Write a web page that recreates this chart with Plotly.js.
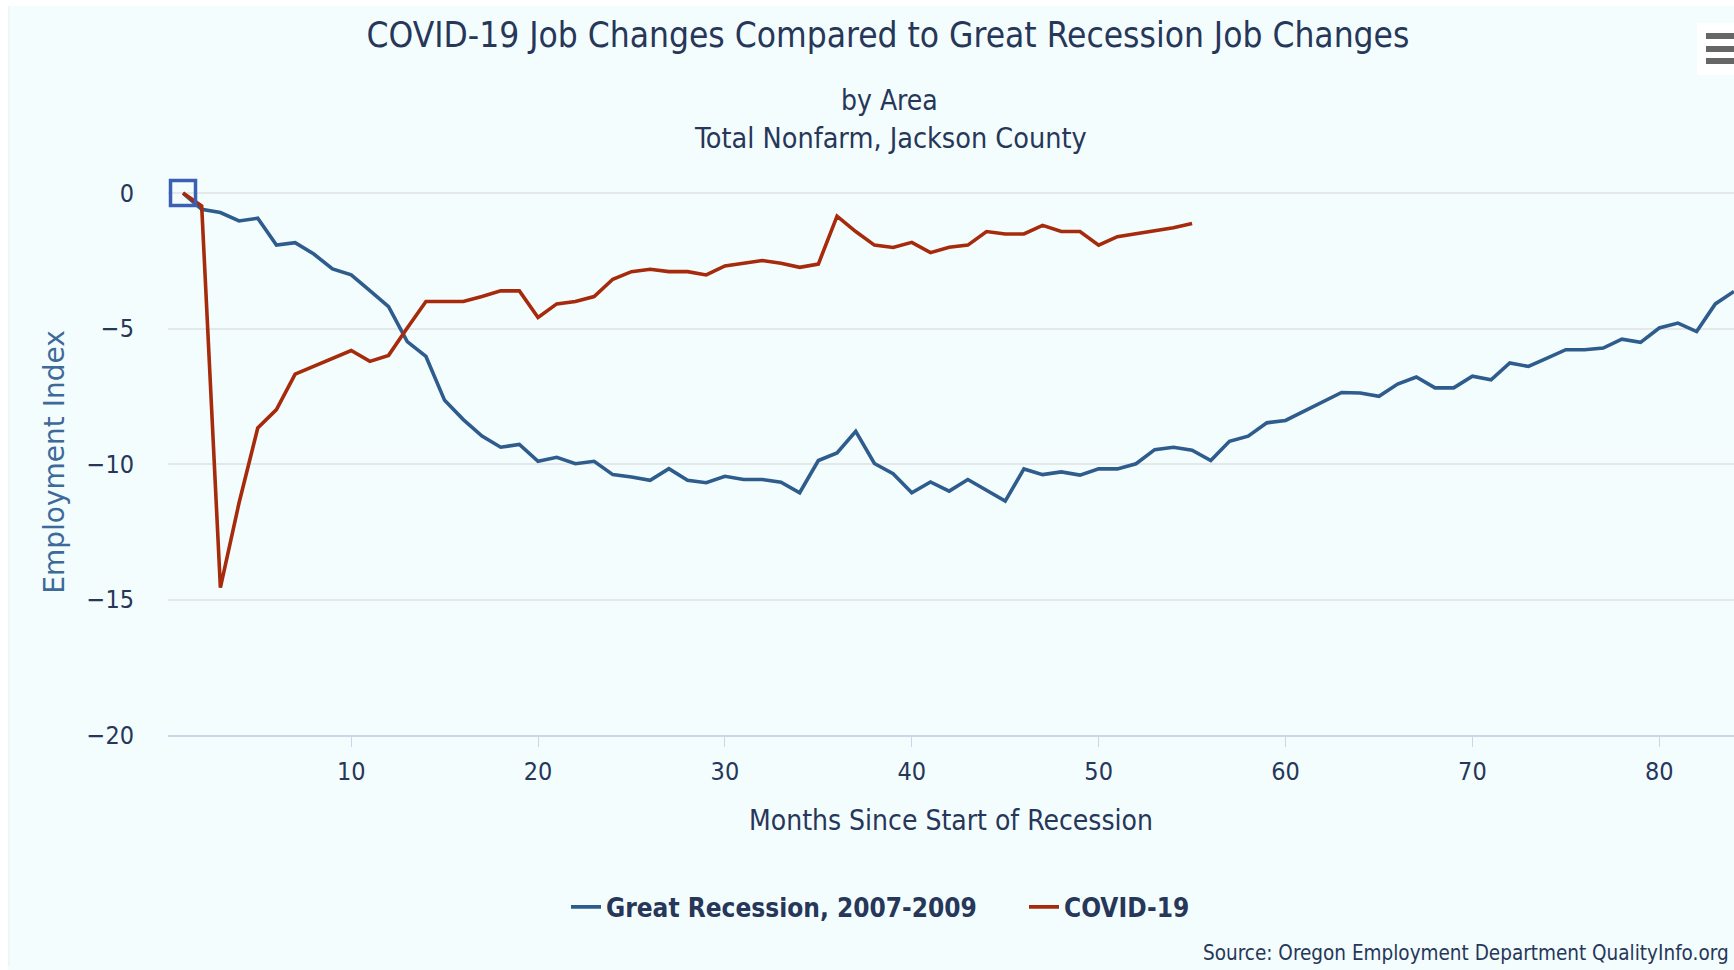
<!DOCTYPE html>
<html>
<head>
<meta charset="utf-8">
<script src="https://cdn.plot.ly/plotly-3.0.1.min.js"></script>
<style>
html,body{margin:0;padding:0;background:#ffffff;}
#chart{width:1734px;height:970px;}
</style>
</head>
<body>
<div id="chart"></div>
<script>
var months = [1,2,3,4,5,6,7,8,9,10,11,12,13,14,15,16,17,18,19,20,21,22,23,24,25,26,27,28,29,30,31,32,33,34,35,36,37,38,39,40,41,42,43,44,45,46,47,48,49,50,51,52,53,54,55,56,57,58,59,60,61,62,63,64,65,66,67,68,69,70,71,72,73,74,75,76,77,78,79,80,81,82,83,84];

var greatRecession = [0,-0.6,-0.72,-1.03,-0.93,-1.92,-1.83,-2.25,-2.8,-3.02,
  -3.6,-4.19,-5.48,-6.03,-7.65,-8.36,-8.97,-9.38,-9.28,-9.9,
  -9.75,-9.99,-9.9,-10.39,-10.48,-10.6,-10.17,-10.6,-10.69,-10.45,
  -10.57,-10.57,-10.67,-11.06,-9.87,-9.59,-8.79,-9.98,-10.36,-11.06,
  -10.66,-11.0,-10.57,-10.98,-11.37,-10.18,-10.39,-10.29,-10.41,-10.18,
  -10.18,-9.99,-9.47,-9.38,-9.49,-9.87,-9.16,-8.97,-8.48,-8.39,
  -8.05,-7.72,-7.36,-7.38,-7.5,-7.05,-6.79,-7.19,-7.19,-6.76,
  -6.89,-6.27,-6.4,-6.09,-5.78,-5.78,-5.72,-5.39,-5.51,-4.98,
  -4.8,-5.11,-4.09,-3.63];

var covid = [0,-0.48,-14.56,-11.43,-8.67,-7.99,-6.68,-6.4,-6.09,-5.81,
  -6.21,-5.99,-4.98,-4.0,-4.0,-4.0,-3.82,-3.61,-3.61,-4.59,
  -4.09,-4.0,-3.82,-3.18,-2.9,-2.81,-2.9,-2.9,-3.02,-2.69,
  -2.59,-2.49,-2.59,-2.74,-2.62,-0.85,-1.42,-1.92,-2.01,-1.82,
  -2.2,-2.0,-1.92,-1.42,-1.51,-1.51,-1.19,-1.42,-1.42,-1.92,
  -1.61,-1.49,-1.39,-1.28,-1.12];

var seriesNames = ["Great Recession, 2007-2009", "COVID-19"];
var xTicks = [10,20,30,40,50,60,70,80];
var yTicks = [0,-5,-10,-15,-20];

var NARROW = "'Liberation Sans Narrow', 'DejaVu Sans Condensed', 'Liberation Sans', sans-serif";
var TXT = "#26375a";

var traces = [
  {x: months, y: greatRecession, name: seriesNames[0], type: "scatter", mode: "lines",
   line: {color: "#2e5c8c", width: 3.6}},
  {x: months.slice(0, covid.length), y: covid, name: seriesNames[1], type: "scatter", mode: "lines",
   line: {color: "#a62b0c", width: 3.6}},
  {x: [months[0]], y: [greatRecession[0]], type: "scatter", mode: "markers", showlegend: false,
   hoverinfo: "skip", cliponaxis: false,
   marker: {symbol: "square-open", size: 25, color: "#3b5fb5", line: {width: 3.5, color: "#3b5fb5"}}}
];

// pixel helpers for decorative shapes (plot area: left 168, right 1734, top 189, bottom 735)
function px(x){ return (x - 168) / 1566; }
function py(y){ return (735 - y) / 546; }

var layout = {
  width: 1734, height: 970,
  margin: {l: 168, r: 0, t: 189, b: 235, pad: 0},
  paper_bgcolor: "#f4fdfd",
  plot_bgcolor: "#f4fdfd",
  font: {family: NARROW, color: TXT, size: 25},
  title: {text: "COVID-19 Job Changes Compared to Great Recession Job Changes",
          font: {family: NARROW, size: 35, color: TXT},
          xref: "container", yref: "container", x: 888/1734, y: 1 - 35/970,
          xanchor: "center", yanchor: "middle"},
  xaxis: {
    range: [0.197, 84], tickvals: xTicks, ticks: "outside", ticklen: 10, tickwidth: 1,
    tickcolor: "#ccd6eb", showline: true, linecolor: "#ccd6eb", linewidth: 2,
    showgrid: false, zeroline: false, ticklabelstandoff: 3,
    tickfont: {family: NARROW, size: 25, color: TXT},
    title: {text: "Months Since Start of Recession", standoff: 25,
            font: {family: NARROW, size: 28, color: TXT}}
  },
  yaxis: {
    range: [-20, 0.15], tickvals: yTicks, ticks: "outside", ticklen: 28, tickcolor: "rgba(0,0,0,0)",
    showgrid: true, gridcolor: "#e4e8e8", gridwidth: 2, zeroline: false, showline: false,
    tickfont: {family: NARROW, size: 25, color: TXT},
    title: {text: "Employment Index", standoff: 13,
            font: {family: "'DejaVu Sans', sans-serif", size: 28, color: "#3d6a99"}}
  },
  legend: {orientation: "h", x: px(566), y: py(907), xanchor: "left", yanchor: "middle",
           entrywidth: 413, entrywidthmode: "pixels",
           font: {family: NARROW, size: 26, color: TXT, weight: "bold"},
           bgcolor: "rgba(0,0,0,0)"},
  annotations: [
    {text: "by Area", xref: "paper", yref: "paper", x: px(889), y: py(101),
     xanchor: "center", yanchor: "middle", showarrow: false,
     font: {family: NARROW, size: 28, color: TXT}},
    {text: "Total Nonfarm, Jackson County", xref: "paper", yref: "paper", x: px(890), y: py(138),
     xanchor: "center", yanchor: "middle", showarrow: false,
     font: {family: NARROW, size: 28.5, color: TXT}},
    {text: "Source: Oregon Employment Department QualityInfo.org", xref: "paper", yref: "paper",
     x: px(1731), y: py(953), xanchor: "right", yanchor: "middle", showarrow: false,
     font: {family: NARROW, size: 20.5, color: TXT}}
  ],
  shapes: [
    {type: "rect", xref: "paper", yref: "paper", x0: px(0), x1: px(8), y0: py(970), y1: py(0),
     fillcolor: "#ffffff", line: {width: 0}, layer: "above"},
    {type: "line", xref: "paper", yref: "paper", x0: px(9), x1: px(9), y0: py(966), y1: py(6),
     line: {width: 1, color: "#e8eeee"}, layer: "above"},
    {type: "rect", xref: "paper", yref: "paper", x0: px(0), x1: px(1734), y0: py(6), y1: py(0),
     fillcolor: "#ffffff", line: {width: 0}, layer: "above"},
    {type: "rect", xref: "paper", yref: "paper", x0: px(1697), x1: px(1740), y0: py(75), y1: py(23),
     fillcolor: "#ffffff", line: {width: 0}, layer: "above"},
    {type: "rect", xref: "paper", yref: "paper", x0: px(1706), x1: px(1740), y0: py(39), y1: py(33),
     fillcolor: "#666666", line: {width: 0}, layer: "above"},
    {type: "rect", xref: "paper", yref: "paper", x0: px(1706), x1: px(1740), y0: py(52), y1: py(46),
     fillcolor: "#666666", line: {width: 0}, layer: "above"},
    {type: "rect", xref: "paper", yref: "paper", x0: px(1706), x1: px(1740), y0: py(64), y1: py(58),
     fillcolor: "#666666", line: {width: 0}, layer: "above"}
  ],
  showlegend: true
};

Plotly.newPlot("chart", traces, layout, {displayModeBar: false, responsive: false});
</script>
</body>
</html>
